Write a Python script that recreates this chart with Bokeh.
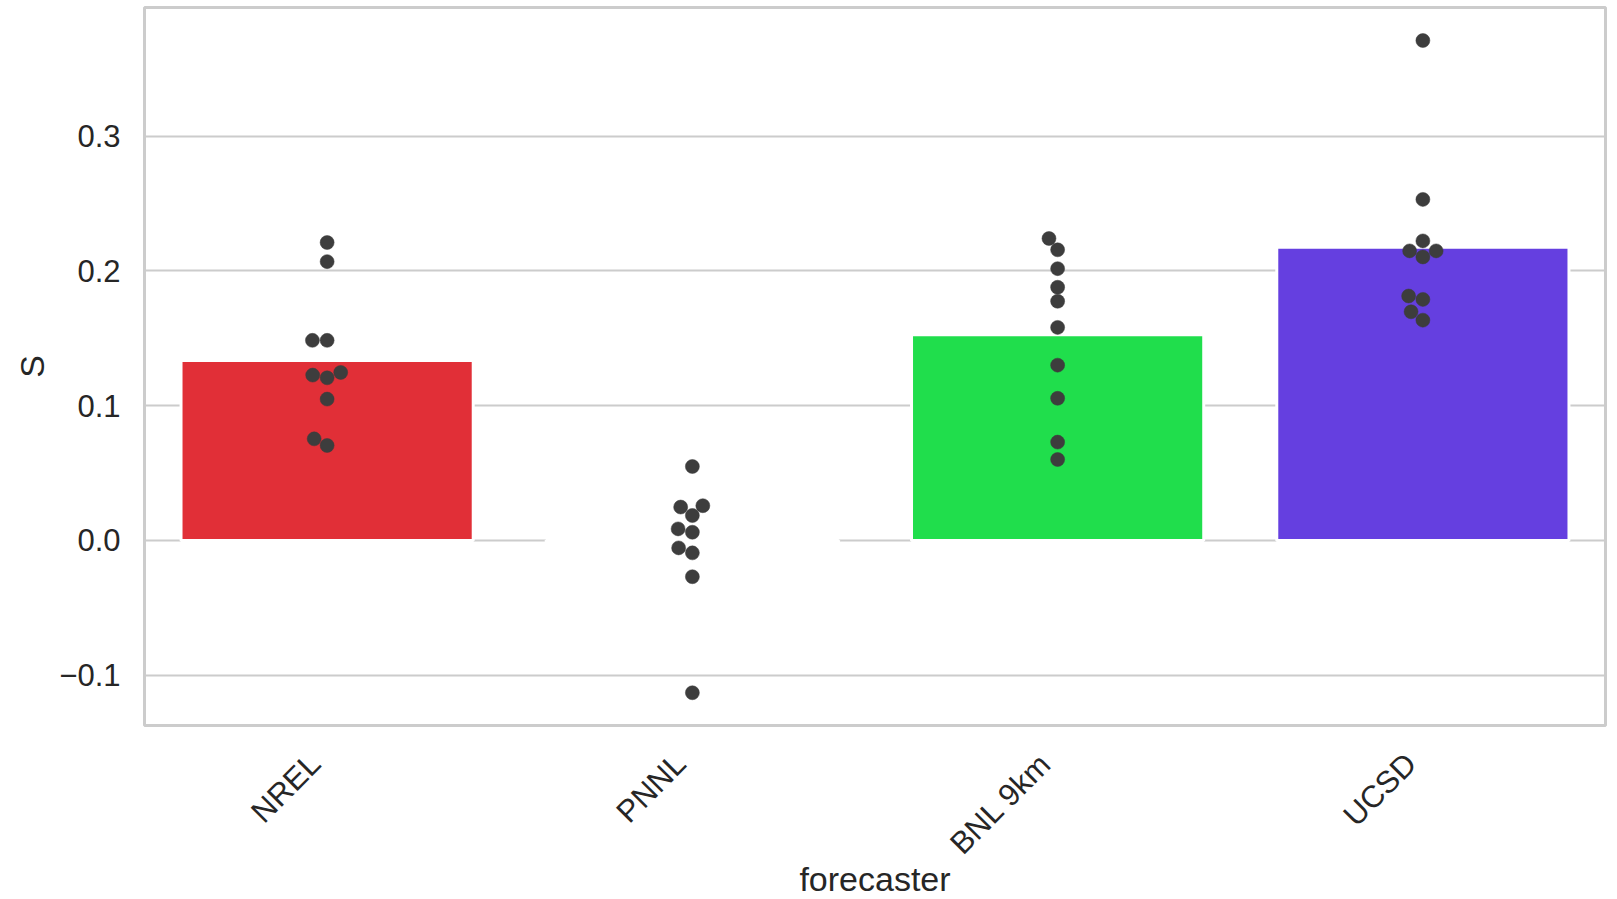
import math
import numpy as np
from bokeh.plotting import figure
from bokeh.models import Range1d, FixedTicker, CustomJSTickFormatter, ColumnDataSource, Title
from bokeh.embed import file_html
from bokeh.resources import INLINE

# ---- data ----
categories = ["NREL", "PNNL", "BNL 9km", "UCSD"]
bar_values = [0.1335, -0.0016, 0.1527, 0.2175]
bar_colors = ["#e12f37", "#ffffff", "#20de4c", "#653fe0"]

nrel_points = [0.2211, 0.2069, 0.1485, 0.1485, 0.1247, 0.1227, 0.1207, 0.1049, 0.0754, 0.0705]
pnnl_points = [0.0549, 0.0258, 0.0248, 0.0185, 0.0086, 0.0061, -0.0055, -0.0092, -0.0269, -0.1130]
bnl_points = [0.2241, 0.2157, 0.2017, 0.1879, 0.1775, 0.1581, 0.1301, 0.1055, 0.0730, 0.0601]
ucsd_points = [0.3710, 0.2531, 0.2223, 0.2149, 0.2149, 0.2104, 0.1814, 0.1789, 0.1697, 0.1635]
point_groups = [nrel_points, pnnl_points, bnl_points, ucsd_points]

y_ticks = [-0.1, 0.0, 0.1, 0.2, 0.3]
x_label = "forecaster"
y_label = "S"

# ---- layout ----
W, H = 1617, 899
BL, BR, BT, BB = 144, 12, 7, 174
Y0, Y1 = -0.1373, 0.3955
X0, X1 = 0.0, float(len(categories))
frame_w = W - BL - BR
frame_h = H - BT - BB
px_per_y = frame_h / (Y1 - Y0)
px_per_x = frame_w / (X1 - X0)
DOT = 14.0
FONT = "Liberation Sans"
TXT = "#262626"
LABEL_SHIFT_PX = 12  # rotated labels end left of the category centre (matplotlib ha="right")


def beeswarm(vals, d):
    """Seaborn-like beeswarm: returns x offsets in pixels."""
    vals = np.asarray(vals, dtype=float)
    order = np.argsort(vals, kind="stable")
    offs = np.zeros(len(vals))
    placed = []
    for idx in order:
        y = vals[idx] * px_per_y
        neigh = [(nx, ny) for (nx, ny) in placed if abs(ny - y) < d]
        cands = [0.0]
        for nx, ny in neigh:
            dy = y - ny
            dx = math.sqrt(max(d * d - dy * dy, 0.0)) * 1.05
            cands += [nx - dx, nx + dx]
        cands = sorted(cands, key=lambda c: abs(c))
        chosen = cands[-1]
        for c in cands:
            if all(math.hypot(c - nx, y - ny) >= d - 1e-9 for nx, ny in neigh):
                chosen = c
                break
        offs[idx] = chosen
        placed.append((chosen, y))
    return offs


xs, ys = [], []
for i, pts in enumerate(point_groups):
    offs = beeswarm(pts, DOT)
    for v, o in zip(pts, offs):
        xs.append(i + 0.5 + o / px_per_x)
        ys.append(v)

p = figure(width=W, height=H, output_backend="svg", toolbar_location=None,
           x_range=Range1d(X0, X1), y_range=Range1d(Y0, Y1),
           min_border_left=BL, min_border_right=BR, min_border_top=BT, min_border_bottom=BB)

p.background_fill_color = "white"
p.border_fill_color = "white"
p.outline_line_color = "#cccccc"
p.outline_line_width = 3

p.xgrid.grid_line_color = None
p.ygrid.grid_line_color = "#cccccc"
p.ygrid.grid_line_width = 2
p.ygrid.ticker = FixedTicker(ticks=y_ticks)

centers = [i + 0.5 for i in range(len(categories))]
src = ColumnDataSource(dict(x=centers, top=bar_values, color=bar_colors))
p.vbar(x="x", top="top", bottom=0, width=0.8, fill_color="color", line_color="white",
       line_width=3, source=src)

p.scatter(xs, ys, size=DOT, fill_color="#3d3d3d", line_color="#3d3d3d", line_width=0.5)

xa = p.xaxis[0]
shift = LABEL_SHIFT_PX / px_per_x
xa.ticker = FixedTicker(ticks=[c - shift for c in centers])
xa.formatter = CustomJSTickFormatter(args=dict(names=categories),
                                     code="return names[Math.round(tick - 0.5)];")
xa.major_label_orientation = math.pi / 4
xa.major_label_standoff = 33

ya = p.yaxis[0]
ya.ticker = FixedTicker(ticks=y_ticks)
ya.formatter = CustomJSTickFormatter(
    code="var s = (Math.abs(tick) < 1e-9 ? 0 : tick).toFixed(1); return s.replace('-', '\u2212');")
ya.major_label_standoff = 24
ya.axis_label = y_label
ya.axis_label_standoff = 5

for ax in (xa, ya):
    ax.axis_line_color = None
    ax.major_tick_line_color = None
    ax.minor_tick_line_color = None
    ax.major_tick_out = 0
    ax.major_tick_in = 0
    ax.major_label_text_font = FONT
    ax.major_label_text_font_size = "31px"
    ax.major_label_text_color = TXT
    ax.axis_label_text_font = FONT
    ax.axis_label_text_font_size = "34px"
    ax.axis_label_text_font_style = "normal"
    ax.axis_label_text_color = TXT

p.add_layout(Title(text=x_label, align="center", vertical_align="top", text_font=FONT,
                   text_font_size="34px", text_font_style="normal", text_color=TXT,
                   standoff=-34), "below")

open("out.html", "w").write(file_html(p, INLINE))
